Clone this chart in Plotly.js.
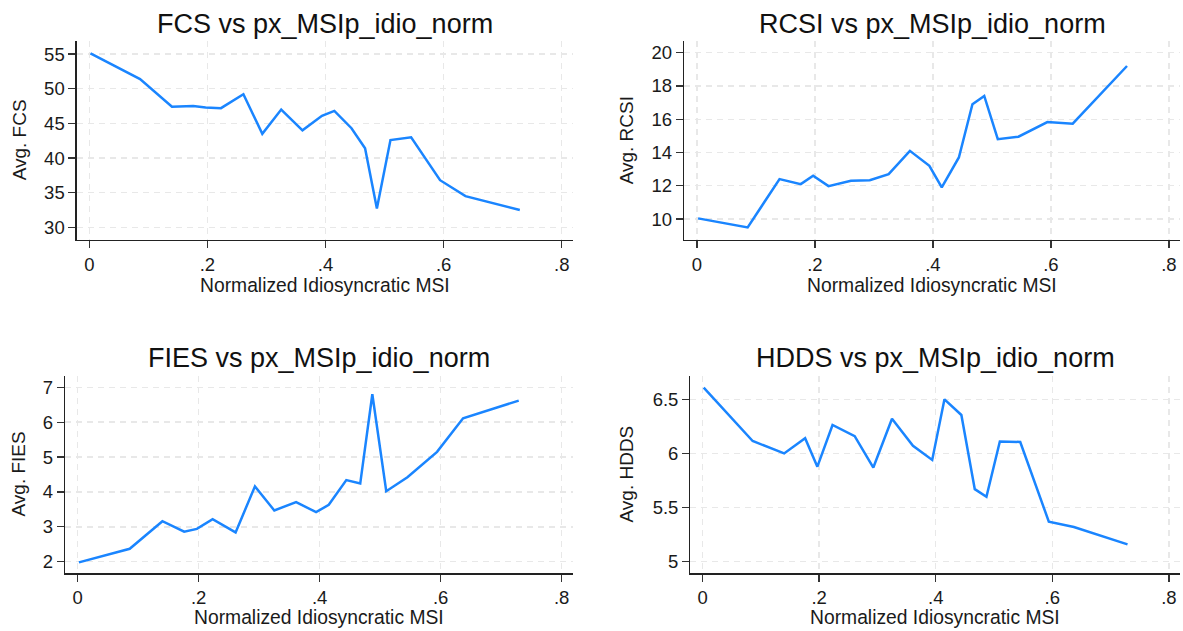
<!DOCTYPE html>
<html>
<head>
<meta charset="utf-8">
<script src="https://cdn.plot.ly/plotly-3.0.1.min.js"></script>
<style>html,body{margin:0;padding:0;background:#fff;}#chart{width:1183px;height:631px;}</style>
</head>
<body>
<div id="chart"></div>
<script>
// ---- data ----
const msi  = [0.002,0.086,0.140,0.176,0.197,0.223,0.261,0.293,0.325,0.361,0.394,0.415,0.444,0.467,0.487,0.510,0.545,0.594,0.637,0.729];
const fcs  = [55.1,51.4,47.4,47.5,47.3,47.2,49.2,43.5,47.0,44.0,46.1,46.8,44.3,41.4,32.7,42.6,43.0,36.8,34.5,32.5];
const rcsi = [10.04,9.5,12.4,12.1,12.6,11.98,12.3,12.33,12.7,14.1,13.2,11.9,13.7,16.9,17.4,14.8,14.95,15.83,15.73,19.2];
const fies = [1.98,2.37,3.16,2.86,2.94,3.22,2.84,4.16,3.47,3.71,3.42,3.63,4.34,4.24,6.80,4.02,4.42,5.15,6.11,6.62];
const hdds = [6.608,6.115,6.00,6.14,5.878,6.263,6.16,5.87,6.32,6.07,5.94,6.50,6.355,5.67,5.60,6.11,6.106,5.37,5.32,5.16];

const xTickVals = [0,0.2,0.4,0.6,0.8];
const xTickText = ["0",".2",".4",".6",".8"];
const xTitle = "Normalized Idiosyncratic MSI";
const titles = ["FCS vs px_MSIp_idio_norm","RCSI vs px_MSIp_idio_norm","FIES vs px_MSIp_idio_norm","HDDS vs px_MSIp_idio_norm"];
const yTitles = ["Avg. FCS","Avg. RCSI","Avg. FIES","Avg. HDDS"];
const yTicks = [[30,35,40,45,50,55],[10,12,14,16,18,20],[2,3,4,5,6,7],[5,5.5,6,6.5]];
const yTickText = [["30","35","40","45","50","55"],["10","12","14","16","18","20"],["2","3","4","5","6","7"],["5","5.5","6","6.5"]];
const series = [fcs, rcsi, fies, hdds];

// ---- layout geometry ----
const W = 1183, H = 631;
const FONT = "Liberation Sans, Arial, sans-serif";
const panels = [
  {xd:[76.7,573.3],  yd:[40.7,240],   xr:[-0.0213,0.8196], yr:[28.17,56.93], tx:325,   ty:24,  ytx:19,  xty:285},
  {xd:[684,1180.4],  yd:[40.7,240],   xr:[-0.0219,0.8195], yr:[8.74,20.72],  tx:932,   ty:24,  ytx:626, xty:285},
  {xd:[65,573],      yd:[375.7,573.3],xr:[-0.0210,0.8187], yr:[1.667,7.333], tx:319,   ty:358, ytx:18,  xty:617},
  {xd:[690.4,1180.4],yd:[375.7,573.3],xr:[-0.0208,0.8197], yr:[4.893,6.718], tx:935.5, ty:358, ytx:626, xty:617}
];

const data = [];
const layout = {
  width: W, height: H,
  margin: {l:0, r:0, t:0, b:0},
  paper_bgcolor: "#ffffff", plot_bgcolor: "#ffffff",
  showlegend: false,
  font: {family: FONT, color: "#1a1a1a"},
  annotations: []
};

panels.forEach((p, i) => {
  const sfx = i === 0 ? "" : String(i + 1);
  data.push({
    x: msi, y: series[i], type: "scatter", mode: "lines",
    xaxis: "x" + sfx, yaxis: "y" + sfx,
    line: {color: "#1a85ff", width: 2.5},
    hoverinfo: "x+y"
  });
  const common = {
    showline: true, linecolor: "#222222", linewidth: 1.3,
    ticks: "outside", ticklen: 7, tickwidth: 1.3, tickcolor: "#333333",
    showgrid: true, gridcolor: "#e8e8e8", gridwidth: 1.4, griddash: "6px,5px",
    zeroline: false, mirror: false,
    tickfont: {family: FONT, size: 18.5, color: "#1a1a1a"},
    fixedrange: true
  };
  layout["xaxis" + sfx] = Object.assign({}, common, {
    domain: [p.xd[0] / W, p.xd[1] / W],
    range: p.xr,
    anchor: "y" + sfx,
    tickmode: "array", tickvals: xTickVals, ticktext: xTickText
  });
  layout["yaxis" + sfx] = Object.assign({}, common, {
    domain: [1 - p.yd[1] / H, 1 - p.yd[0] / H],
    range: p.yr,
    anchor: "x" + sfx,
    tickmode: "array", tickvals: yTicks[i], ticktext: yTickText[i]
  });
  layout.annotations.push({
    text: titles[i], xref: "paper", yref: "paper",
    x: p.tx / W, y: 1 - p.ty / H, xanchor: "center", yanchor: "middle",
    showarrow: false, font: {family: FONT, size: 27, color: "#111111"}
  });
  layout.annotations.push({
    text: yTitles[i], xref: "paper", yref: "paper",
    x: p.ytx / W, y: 1 - ((p.yd[0] + p.yd[1]) / 2) / H, xanchor: "center", yanchor: "middle",
    textangle: -90,
    showarrow: false, font: {family: FONT, size: 19, color: "#1a1a1a"}
  });
  layout.annotations.push({
    text: xTitle, xref: "paper", yref: "paper",
    x: ((p.xd[0] + p.xd[1]) / 2) / W, y: 1 - p.xty / H, xanchor: "center", yanchor: "middle",
    showarrow: false, font: {family: FONT, size: 19.3, color: "#1a1a1a"}
  });
});

Plotly.newPlot("chart", data, layout, {displayModeBar: false, staticPlot: true});
</script>
</body>
</html>
